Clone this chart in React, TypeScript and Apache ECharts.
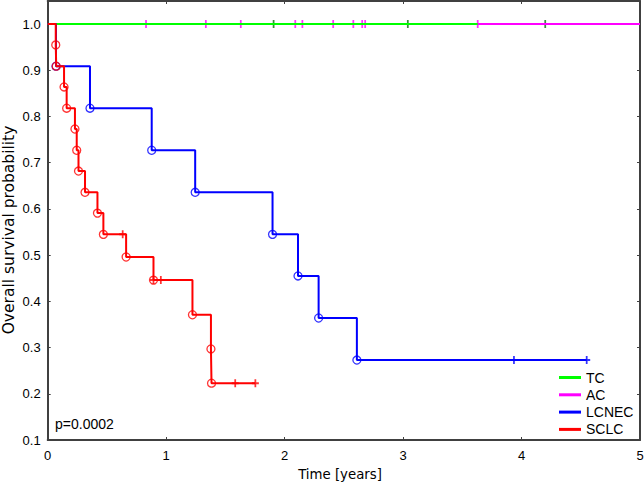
import React, { useEffect, useRef } from "react";
import * as echarts from "echarts";

// Kaplan–Meier step data (time in years, survival probability)
const tcTimes = [0, 3.63];
const tcSurv = [1, 1];
const tcCensorTimes = [1.907, 3.04, 4.2];

const acTimes = [0, 5.0];
const acSurv = [1, 1];
const acCensorTimes = [0.83, 1.335, 1.63, 2.09, 2.15, 2.41, 2.58, 2.655, 2.68, 3.63];

const lcnecTimes = [0, 0.07, 0.357, 0.878, 1.245, 1.898, 2.113, 2.287, 2.61, 4.55];
const lcnecSurv = [1, 0.909, 0.818, 0.727, 0.636, 0.545, 0.455, 0.364, 0.273, 0.273];
const lcnecCensorTimes = [3.936, 4.55];
const lcnecCensorSurv = [0.273, 0.273];

const sclcTimes = [0, 0.068, 0.072, 0.138, 0.16, 0.23, 0.245, 0.26, 0.315, 0.42, 0.47, 0.662, 0.893, 1.222, 1.378, 1.383, 1.753];
const sclcSurv = [1, 0.955, 0.909, 0.864, 0.818, 0.773, 0.727, 0.682, 0.636, 0.591, 0.545, 0.496, 0.446, 0.371, 0.297, 0.223, 0.223];
const sclcCensorTimes = [0.633, 0.893, 0.955, 1.583, 1.753];
const sclcCensorSurv = [0.545, 0.446, 0.446, 0.223, 0.223];

const legendNames = ["TC", "AC", "LCNEC", "SCLC"];
const xTicks = [0, 1, 2, 3, 4, 5];
const pValueText = "p=0.0002";
const xTitle = "Time [years]";
const yTitle = "Overall survival probability";

const FONT = "'Liberation Sans', Arial, sans-serif";
const WIDE_FONT = "'DejaVu Sans', sans-serif";
const PLUS = "path://M-1,-4H1V-1H4V1H1V4H-1V1H-4V-1H-1Z";

function zip(t: number[], s: number[]) {
  return t.map((v, i) => [v, s[i]]);
}

export default function App() {
  const ref = useRef<HTMLDivElement>(null);
  useEffect(() => {
    if (!ref.current) return;
    const chart = echarts.init(ref.current, undefined, { renderer: "svg" });

    const lineSeries = (name: string, data: number[][], color: string) => ({
      name,
      type: "line",
      step: "end",
      data,
      symbol: "none",
      showSymbol: false,
      color,
      lineStyle: { color, width: 2 },
      xAxisIndex: 0,
      yAxisIndex: 0,
    });
    const circleSeries = (name: string, data: number[][], color: string) => ({
      name,
      type: "scatter",
      data,
      symbol: "circle",
      symbolSize: 8,
      itemStyle: { color: "rgba(0,0,0,0)", borderColor: color, borderWidth: 1.3 },
      xAxisIndex: 0,
      yAxisIndex: 0,
    });
    const censorSeries = (name: string, data: number[][], color: string) => ({
      name,
      type: "scatter",
      data,
      symbol: PLUS,
      symbolSize: [7, 8],
      itemStyle: { color },
      xAxisIndex: 0,
      yAxisIndex: 0,
    });

    const axisLineStyle = { color: "#404040", width: 2 };
    const tickStyle = { show: true, inside: true, length: 3, lineStyle: { color: "#404040", width: 1 } };

    const option: any = {
      animation: false,
      grid: { left: 47.7, right: 4, top: 1, bottom: 47, containLabel: false, outerBoundsMode: "none" },
      legend: {
        data: legendNames,
        orient: "vertical",
        left: 559,
        top: 369,
        padding: 0,
        icon: "rect",
        itemWidth: 22,
        itemHeight: 3,
        itemGap: 0.3,
        textStyle: { fontFamily: FONT, fontSize: 14, color: "#000", lineHeight: 17 },
        selectedMode: false,
      },
      xAxis: [
        {
          type: "value",
          min: 0,
          max: 5,
          interval: 1,
          position: "bottom",
          axisLine: { show: true, onZero: false, lineStyle: axisLineStyle },
          axisTick: tickStyle,
          axisLabel: { fontFamily: FONT, fontSize: 13, color: "#000", margin: 9, formatter: (v: number) => (xTicks.includes(v) ? String(v) : "") },
          splitLine: { show: false },
        },
        {
          type: "value",
          min: 0,
          max: 5,
          interval: 1,
          position: "top",
          axisLine: { show: true, onZero: false, lineStyle: axisLineStyle },
          axisTick: tickStyle,
          axisLabel: { show: false },
          splitLine: { show: false },
        },
      ],
      yAxis: [
        {
          type: "value",
          min: 0.1,
          max: 1.05,
          interval: 0.1,
          position: "left",
          axisLine: { show: true, onZero: false, lineStyle: axisLineStyle },
          axisTick: tickStyle,
          axisLabel: {
            fontFamily: FONT,
            fontSize: 13,
            color: "#000",
            margin: 7,
            formatter: (v: number) => (v > 1.01 ? "" : v.toFixed(1)),
          },
          splitLine: { show: false },
        },
        {
          type: "value",
          min: 0.1,
          max: 1.05,
          interval: 0.1,
          position: "right",
          axisLine: { show: true, onZero: false, lineStyle: axisLineStyle },
          axisTick: tickStyle,
          axisLabel: { show: false },
          splitLine: { show: false },
        },
      ],
      graphic: [
        {
          type: "text",
          x: 55,
          y: 424,
          style: { text: pValueText, fontFamily: FONT, fontSize: 14, fill: "#000", textVerticalAlign: "middle" },
        },
        {
          type: "text",
          x: 340,
          y: 474,
          style: { text: xTitle, fontFamily: WIDE_FONT, fontSize: 13.3, fill: "#000", textAlign: "center", textVerticalAlign: "middle" },
        },
        {
          type: "text",
          x: 8.5,
          y: 230,
          rotation: Math.PI / 2,
          style: { text: yTitle, fontFamily: WIDE_FONT, fontSize: 15.5, fill: "#000", textAlign: "center", textVerticalAlign: "middle" },
        },
      ],
      series: [
        lineSeries(legendNames[1], zip(acTimes, acSurv), "#ff00ff"),
        lineSeries(legendNames[0], zip(tcTimes, tcSurv), "#00ff00"),
        censorSeries("AC censored", acCensorTimes.map((t) => [t, 1]), "#ff00ff"),
        censorSeries("TC censored", tcCensorTimes.map((t) => [t, 1]), "#0a6e0a"),
        lineSeries(legendNames[2], zip(lcnecTimes, lcnecSurv), "#0000ff"),
        circleSeries("LCNEC events", zip(lcnecTimes.slice(1, 9), lcnecSurv.slice(1, 9)), "#0000ff"),
        censorSeries("LCNEC censored", zip(lcnecCensorTimes, lcnecCensorSurv), "#0000ff"),
        lineSeries(legendNames[3], zip(sclcTimes, sclcSurv), "#ff0000"),
        circleSeries("SCLC events", zip(sclcTimes.slice(1, 16), sclcSurv.slice(1, 16)), "#ff0000"),
        censorSeries("SCLC censored", zip(sclcCensorTimes, sclcCensorSurv), "#ff0000"),
      ],
    };
    chart.setOption(option);
    return () => chart.dispose();
  }, []);

  return (
    <div
      ref={ref}
      style={{ position: "fixed", left: 0, top: 0, width: 644, height: 487, background: "#fff" }}
    />
  );
}
